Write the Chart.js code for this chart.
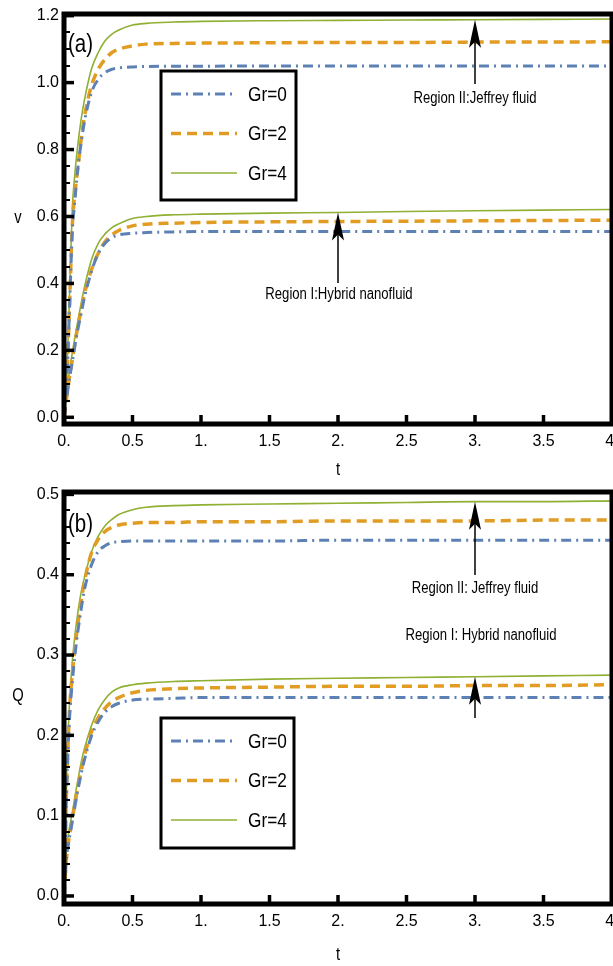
<!DOCTYPE html>
<html>
<head>
<meta charset="utf-8">
<script src="https://cdn.jsdelivr.net/npm/chart.js@4.4.1/dist/chart.umd.min.js"></script>
<style>
  body { margin: 0; background: #fff; }
  canvas { display: block; }
</style>
</head>
<body>
<canvas id="chartA" width="613" height="483"></canvas>
<canvas id="chartB" width="613" height="483"></canvas>
<script>
// DATA
const tGrid = [0, 0.02, 0.04, 0.06, 0.08, 0.1, 0.125, 0.15, 0.2, 0.25, 0.3, 0.35, 0.4, 0.5, 0.6, 0.8, 1, 1.5, 2, 2.5, 3, 3.5, 4];
const grLabels = ["Gr=0", "Gr=2", "Gr=4"];
const xTicks = [0, 0.5, 1, 1.5, 2, 2.5, 3, 3.5, 4];

// (a) velocity v
const vTicks = [0, 0.2, 0.4, 0.6, 0.8, 1.0, 1.2];
const vJeffreyGr0 = [0, 0.10, 0.32, 0.55, 0.65, 0.74, 0.82, 0.885, 0.97, 1.01, 1.03, 1.04, 1.044, 1.047, 1.048, 1.049, 1.049, 1.05, 1.05, 1.05, 1.05, 1.05, 1.05];
const vJeffreyGr2 = [0, 0.11, 0.33, 0.57, 0.67, 0.74, 0.83, 0.90, 0.99, 1.04, 1.07, 1.09, 1.10, 1.11, 1.115, 1.117, 1.118, 1.119, 1.12, 1.12, 1.121, 1.121, 1.122];
const vJeffreyGr4 = [0, 0.12, 0.36, 0.62, 0.73, 0.81, 0.89, 0.95, 1.04, 1.09, 1.125, 1.145, 1.157, 1.172, 1.177, 1.181, 1.183, 1.185, 1.186, 1.187, 1.188, 1.189, 1.19];
const vHybridGr0 = [0, 0.06, 0.115, 0.165, 0.215, 0.26, 0.31, 0.36, 0.435, 0.49, 0.52, 0.537, 0.545, 0.55, 0.552, 0.554, 0.555, 0.555, 0.555, 0.555, 0.555, 0.555, 0.555];
const vHybridGr2 = [0, 0.06, 0.12, 0.17, 0.22, 0.27, 0.32, 0.37, 0.44, 0.49, 0.525, 0.545, 0.558, 0.572, 0.577, 0.58, 0.582, 0.584, 0.585, 0.586, 0.587, 0.588, 0.589];
const vHybridGr4 = [0, 0.07, 0.14, 0.19, 0.24, 0.285, 0.34, 0.39, 0.47, 0.52, 0.548, 0.567, 0.578, 0.594, 0.6, 0.605, 0.607, 0.61, 0.612, 0.615, 0.617, 0.619, 0.621];

// (b) flow rate Q
const qTicks = [0, 0.1, 0.2, 0.3, 0.4, 0.5];
const qJeffreyGr0 = [0, 0.135, 0.22, 0.265, 0.30, 0.328, 0.357, 0.382, 0.412, 0.429, 0.436, 0.44, 0.441, 0.442, 0.442, 0.442, 0.442, 0.442, 0.443, 0.443, 0.443, 0.443, 0.443];
const qJeffreyGr2 = [0, 0.14, 0.23, 0.275, 0.31, 0.337, 0.367, 0.392, 0.427, 0.444, 0.454, 0.459, 0.462, 0.464, 0.465, 0.465, 0.466, 0.466, 0.467, 0.467, 0.467, 0.468, 0.468];
const qJeffreyGr4 = [0, 0.15, 0.24, 0.29, 0.325, 0.352, 0.378, 0.397, 0.428, 0.448, 0.461, 0.469, 0.475, 0.481, 0.484, 0.486, 0.487, 0.488, 0.489, 0.49, 0.491, 0.491, 0.492];
const qHybridGr0 = [0, 0.05, 0.073, 0.092, 0.112, 0.131, 0.152, 0.17, 0.199, 0.217, 0.229, 0.236, 0.24, 0.244, 0.245, 0.246, 0.247, 0.247, 0.247, 0.247, 0.247, 0.247, 0.247];
const qHybridGr2 = [0, 0.05, 0.075, 0.095, 0.115, 0.135, 0.155, 0.175, 0.204, 0.222, 0.234, 0.242, 0.247, 0.253, 0.256, 0.258, 0.259, 0.26, 0.261, 0.261, 0.262, 0.262, 0.263];
const qHybridGr4 = [0, 0.06, 0.085, 0.103, 0.124, 0.143, 0.166, 0.184, 0.212, 0.232, 0.245, 0.254, 0.259, 0.263, 0.265, 0.267, 0.268, 0.27, 0.271, 0.272, 0.273, 0.274, 0.275];

// STYLES
const FONT = "'Liberation Sans', Arial, sans-serif";
const styles = [
    { color: "#5E81B5", width: 3, dash: [10, 5, 2, 5] },
    { color: "#E19C24", width: 3.5, dash: [10, 6] },
    { color: "#8FB032", width: 1.6, dash: [] }
];

function series(values, i) {
    return {
        label: grLabels[i],
        data: tGrid.map((t, k) => ({ x: t, y: values[k] })),
        borderColor: styles[i].color,
        borderWidth: styles[i].width,
        borderDash: styles[i].dash,
        pointRadius: 0,
        fill: false,
        cubicInterpolationMode: "monotone"
    };
}

// text squeezed sideways, like a narrow font
function narrow(ctx, text, x, y, align, size) {
    ctx.save();
    ctx.translate(x, y);
    ctx.scale(0.82, 1);
    ctx.font = size + "px " + FONT;
    ctx.textAlign = align;
    ctx.textBaseline = "middle";
    ctx.fillText(text, 0, 0);
    ctx.restore();
}

// frame, minor ticks, legend, labels and arrows
const decoPlugin = {
    id: "deco",
    afterDraw(chart) {
        const o = chart.options.plugins.deco;
        const ctx = chart.ctx;
        const a = chart.chartArea;
        const xs = chart.scales.x, ys = chart.scales.y;
        ctx.save();
        ctx.strokeStyle = "#000";
        ctx.fillStyle = "#000";

        // y ticks (major + minor) inward from left axis
        ctx.lineWidth = 2;
        for (let v = 0; v <= ys.max + 1e-9; v += o.minorStep) {
            const y = Math.round(ys.getPixelForValue(v));
            ctx.beginPath(); ctx.moveTo(a.left, y); ctx.lineTo(a.left + 6, y); ctx.stroke();
        }
        ctx.lineWidth = 3.5;
        o.majors.forEach(v => {
            const y = ys.getPixelForValue(v);
            ctx.beginPath(); ctx.moveTo(a.left, y); ctx.lineTo(a.left + 10, y); ctx.stroke();
        });
        xTicks.forEach(v => {
            const x = xs.getPixelForValue(v);
            ctx.beginPath(); ctx.moveTo(x, a.bottom); ctx.lineTo(x, a.bottom - 9); ctx.stroke();
        });

        // thick frame
        ctx.lineWidth = 5;
        ctx.strokeRect(a.left, a.top, a.right - a.left, a.bottom - a.top);

        // axis titles and panel tag
        narrow(ctx, "t", (a.left + a.right) / 2, o.tY, "center", 18);
        narrow(ctx, o.yTitle, 18, o.yTitleY, "center", 18);
        narrow(ctx, o.tag, a.left + 4, o.tagY, "left", 25);

        // annotations with arrows
        o.notes.forEach(n => {
            const x = xs.getPixelForValue(n.t);
            const tip = ys.getPixelForValue(n.tip);
            ctx.lineWidth = 1.5;
            ctx.beginPath(); ctx.moveTo(x, n.tail); ctx.lineTo(x, tip + 20); ctx.stroke();
            ctx.beginPath();
            ctx.moveTo(x, tip);
            ctx.lineTo(x - 6, tip + 28);
            ctx.lineTo(x, tip + 22);
            ctx.lineTo(x + 6, tip + 28);
            ctx.closePath();
            ctx.fill();
            narrow(ctx, n.text, n.textX, n.textY, "center", 16);
        });

        // legend box
        const L = o.legend;
        ctx.lineWidth = 3;
        ctx.strokeRect(L.x, L.y, L.w, L.h);
        grLabels.forEach((lab, i) => {
            const y = L.y + 23 + i * 39.5;
            ctx.save();
            ctx.strokeStyle = styles[i].color;
            ctx.lineWidth = styles[i].width;
            ctx.setLineDash(styles[i].dash);
            ctx.beginPath(); ctx.moveTo(L.x + 10, y); ctx.lineTo(L.x + 76, y); ctx.stroke();
            ctx.restore();
            narrow(ctx, lab, L.x + 87, y + 1, "left", 21);
        });
        ctx.restore();
    }
};

function makeChart(id, sets, yMin, yMax, majors, deco, top) {
    new Chart(document.getElementById(id), {
        type: "line",
        data: { datasets: sets },
        plugins: [decoPlugin],
        options: {
            responsive: false,
            animation: false,
            layout: { padding: { top: top, right: 1, left: 0, bottom: 0 } },
            plugins: { legend: { display: false }, tooltip: { enabled: false }, deco: deco },
            scales: {
                x: {
                    type: "linear", min: 0, max: 4,
                    grid: { display: false, drawTicks: false },
                    border: { display: false },
                    afterBuildTicks: s => { s.ticks = xTicks.map(v => ({ value: v })); },
                    afterFit: s => { s.height = 483 - top - (deco.plotH); s.paddingLeft = 0; s.paddingRight = 0; },
                    ticks: {
                        padding: 8,
                        color: "#000",
                        font: { family: FONT, size: 16 },
                        maxRotation: 0,
                        callback: v => Number.isInteger(v) ? v + "." : String(v)
                    }
                },
                y: {
                    type: "linear", min: yMin, max: yMax,
                    grid: { display: false, drawTicks: false },
                    border: { display: false },
                    afterBuildTicks: s => { s.ticks = majors.map(v => ({ value: v })); },
                    afterFit: s => { s.width = 64; s.paddingTop = 0; s.paddingBottom = 0; },
                    ticks: {
                        padding: 5,
                        color: "#000",
                        font: { family: FONT, size: 16 },
                        callback: v => v.toFixed(1)
                    }
                }
            }
        }
    });
}

makeChart("chartA", [
    series(vJeffreyGr0, 0), series(vJeffreyGr2, 1), series(vJeffreyGr4, 2),
    series(vHybridGr0, 0), series(vHybridGr2, 1), series(vHybridGr4, 2)
], -0.02, 1.205, vTicks, {
    plotH: 410, minorStep: 0.05, majors: vTicks,
    yTitle: "v", yTitleY: 218, tY: 470, tag: "(a)", tagY: 45,
    legend: { x: 161, y: 71, w: 135, h: 129 },
    notes: [
        { text: "Region II:Jeffrey fluid", t: 3, tip: 1.188, tail: 84, textX: 475, textY: 99 },
        { text: "Region I:Hybrid nanofluid", t: 2, tip: 0.612, tail: 283, textX: 339, textY: 295 }
    ]
}, 14);

makeChart("chartB", [
    series(qJeffreyGr0, 0), series(qJeffreyGr2, 1), series(qJeffreyGr4, 2),
    series(qHybridGr0, 0), series(qHybridGr2, 1), series(qHybridGr4, 2)
], -0.01, 0.503, qTicks, {
    plotH: 412, minorStep: 0.02, majors: qTicks,
    yTitle: "Q", yTitleY: 213, tY: 472, tag: "(b)", tagY: 42,
    legend: { x: 161, y: 235, w: 133, h: 130 },
    notes: [
        { text: "Region II: Jeffrey fluid", t: 3, tip: 0.491, tail: 92, textX: 475, textY: 106 },
        { text: "Region I: Hybrid nanofluid", t: 3, tip: 0.273, tail: 235, textX: 481, textY: 153 }
    ]
}, 9);
</script>
</body>
</html>
